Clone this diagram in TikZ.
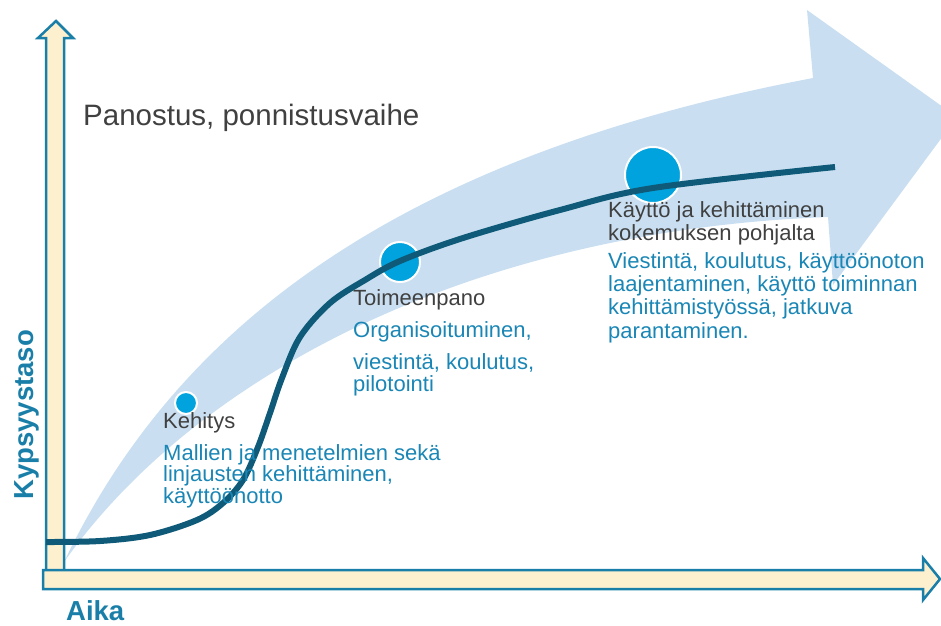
\documentclass[tikz,border=0pt]{standalone}
\usepackage{fontspec}
\setmainfont{Liberation Sans}
\usepackage{xcolor}
\usepackage{tikz}

\definecolor{axisfill}{HTML}{FDF0CF}
\definecolor{axisline}{HTML}{1A7FA8}
\definecolor{bandblue}{HTML}{C9DFF1}
\definecolor{curveblue}{HTML}{0E5A78}
\definecolor{dotblue}{HTML}{00A3DD}
\definecolor{textblue}{HTML}{1A86B5}
\definecolor{textgrey}{HTML}{404040}

\begin{document}
\begin{tikzpicture}[x=1pt,y=-1pt,
    axis/.style={fill=axisfill,draw=axisline,line width=2.5pt,line join=miter},
    dot/.style={circle,fill=dotblue,draw=white,line width=2pt,inner sep=0pt,minimum size=#1},
    phase/.style={anchor=base west,inner sep=0pt,text=textgrey,align=left,font=\fontsize{22}{23}\selectfont},
    detail/.style={anchor=base west,inner sep=0pt,text=textblue,align=left,font=\fontsize{22}{23}\selectfont},
    axlabel/.style={anchor=base west,inner sep=0pt,text=axisline,font=\fontsize{27.5}{28}\selectfont\bfseries}]
    \useasboundingbox (0,0) rectangle (941,625);
    % Draw big arrow
    \begin{scope}
        \clip (0,0) rectangle (941,625);
        \fill[bandblue] (64,562) .. controls (170,340) and (380,160) .. (813,78)
            -- (807,10) -- (957,117) -- (833,285) -- (828,217)
            .. controls (480,230) and (200,370) .. cycle;
    \end{scope}
    % Draw axes
    \draw[axis] (46,570) -- (46,38) -- (38,38) -- (56,21) -- (73,38) -- (64,38) -- (64,570);
    \draw[axis] (43,570) -- (923,570) -- (923,558) -- (940,579) -- (923,600)
        -- (923,589) -- (43,589) -- cycle;
    % Dots on the curve
    \node[dot=22] (kehdot) at (186,403) {};
    \node[dot=40] (toidot) at (400,262) {};
    \node[dot=56] (kaydot) at (653,175) {};
    % Draw curve
    \draw[curveblue,line width=6pt] plot[smooth,tension=0.55] coordinates {
        (46,542) (100,541) (150,535) (197,520) (223,503) (243,480) (258,447)
        (270,413) (282,378) (300,337) (330,303) (365,280) (400,261) (463,238)
        (560,210) (653,188) (835,167)};
    % Labels (multi-line nodes sit on the baseline of their last line)
    \node[anchor=base west,inner sep=0pt,text=textgrey,font=\fontsize{29.5}{30}\selectfont]
        (title) at (83,125) {Panostus, ponnistusvaihe};
    \node[phase] (kehitys) at (163,428) {Kehitys};
    \node[detail,font=\fontsize{22}{21.5}\selectfont] (kehtext) at (163,503)
        {Mallien ja menetelmien sekä\\linjausten kehittäminen,\\käyttöönotto};
    \node[phase] (toimeen) at (353,305) {Toimeenpano};
    \node[detail,font=\fontsize{22}{22}\selectfont] (toitext) at (353,391)
        {Organisoituminen,\\[10pt]viestintä, koulutus,\\pilotointi};
    \node[phase] (kaytto) at (608,240) {Käyttö ja kehittäminen\\kokemuksen pohjalta};
    \node[detail,font=\fontsize{22}{23.3}\selectfont] (kaytext) at (608,338)
        {Viestintä, koulutus, käyttöönoton\\laajentaminen, käyttö toiminnan\\kehittämistyössä, jatkuva\\parantaminen.};
    % Axis names
    \node[axlabel,rotate=90] (ylabel) at (33,500) {Kypsyystaso};
    \node[axlabel] (xlabel) at (66,620) {Aika};
\end{tikzpicture}
\end{document}
